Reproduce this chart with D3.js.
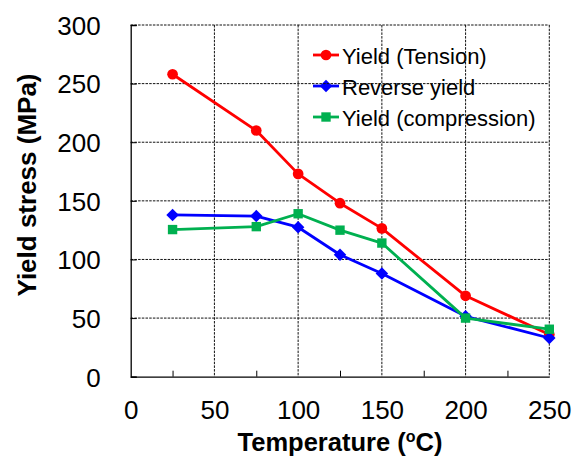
<!DOCTYPE html>
<html>
<head>
<meta charset="utf-8">
<script src="https://cdn.jsdelivr.net/npm/d3@7"></script>
<style>
  html, body { margin: 0; padding: 0; background: #fff; }
  svg { display: block; font-family: Arial, "Liberation Sans", sans-serif; }
</style>
</head>
<body>
<svg id="chart" width="572" height="459"></svg>
<script>
// Yield stress vs temperature
const temperatures = [25, 75, 100, 125, 150, 200, 250];
const yieldTension = [258, 210, 173, 148, 126.5, 69, 36];
const reverseYield = [138, 137, 127.5, 104, 88, 51.5, 33];
const yieldCompression = [125.5, 128, 139, 125, 114, 50, 40.5];
const xTicks = [0, 50, 100, 150, 200, 250];
const xMinorTicks = [25, 75, 125, 175, 225];
const yTicks = [0, 50, 100, 150, 200, 250, 300];

const series = [
  { name: "Yield (Tension)", values: yieldTension, color: "#ff0000", marker: "circle" },
  { name: "Reverse yield", values: reverseYield, color: "#0000ff", marker: "diamond" },
  { name: "Yield (compression)", values: yieldCompression, color: "#00b050", marker: "square" }
];

const svg = d3.select("#chart");
const plot = { left: 130.7, right: 549.3, top: 25, bottom: 376.7 };

const x = d3.scaleLinear().domain([0, 250]).range([plot.left, plot.right]);
const y = d3.scaleLinear().domain([0, 300]).range([plot.bottom, plot.top]);

// Square diamond (equal width and height)
const squareDiamond = {
  draw(context, size) {
    const r = Math.sqrt(size / 2);
    context.moveTo(0, -r);
    context.lineTo(r, 0);
    context.lineTo(0, r);
    context.lineTo(-r, 0);
    context.closePath();
  }
};

const symbolFor = {
  circle: d3.symbol().type(d3.symbolCircle).size(90),
  diamond: d3.symbol().type(squareDiamond).size(78),
  square: d3.symbol().type(d3.symbolSquare).size(88)
};

// Legend (drawn first so the grid runs over it)
const legend = svg.append("g");
series.forEach((s, i) => {
  const ly = 55 + i * 31;
  const g = legend.append("g").attr("transform", `translate(0,${ly})`);
  g.append("line").attr("x1", 313).attr("x2", 339).attr("y1", 0).attr("y2", 0)
    .attr("stroke", s.color).attr("stroke-width", 2.8);
  g.append("path").attr("d", symbolFor[s.marker]()).attr("transform", "translate(326,0)")
    .attr("fill", s.color);
  g.append("text").attr("x", 342).attr("y", 9).attr("font-size", 22)
    .attr("fill", "#000").text(s.name);
});

// Grid lines
const grid = svg.append("g").attr("stroke", "#111").attr("stroke-width", 1)
  .attr("stroke-dasharray", "2.5,1.2");
grid.selectAll(".gy").data(yTicks.filter(d => d > 0)).join("line")
  .attr("x1", plot.left).attr("x2", plot.right)
  .attr("y1", d => y(d)).attr("y2", d => y(d));
grid.selectAll(".gx").data(xTicks.filter(d => d > 0)).join("line")
  .attr("y1", plot.top).attr("y2", plot.bottom)
  .attr("x1", d => x(d)).attr("x2", d => x(d));

// Axes
const xAxis = d3.axisBottom(x).tickValues(xTicks).tickSize(0).tickPadding(24)
  .tickFormat(d3.format("d"));
const gx = svg.append("g").attr("transform", `translate(0,${plot.bottom})`).call(xAxis);
gx.select(".domain").attr("stroke", "#000").attr("stroke-width", 1.3);
gx.selectAll("text").attr("font-size", 26).attr("fill", "#000")
  .attr("font-family", "Arial, 'Liberation Sans', sans-serif");

const xMinor = d3.axisBottom(x).tickValues(xMinorTicks).tickSize(-6).tickFormat("");
const gxm = svg.append("g").attr("transform", `translate(0,${plot.bottom})`).call(xMinor);
gxm.select(".domain").remove();
gxm.selectAll("line").attr("stroke", "#000");

const yAxis = d3.axisLeft(y).tickValues(yTicks).tickSize(-6).tickPadding(30)
  .tickFormat(d3.format("d"));
const gy = svg.append("g").attr("transform", `translate(${plot.left},0)`).call(yAxis);
gy.select(".domain").attr("stroke", "#000").attr("stroke-width", 1.3);
gy.selectAll("line").attr("stroke", "#000");
gy.selectAll("text").attr("font-size", 26).attr("fill", "#000")
  .attr("font-family", "Arial, 'Liberation Sans', sans-serif")
  .attr("dy", "0.36em");

// Series lines and markers
const line = d3.line().x((d, i) => x(temperatures[i])).y(d => y(d));
series.forEach(s => {
  svg.append("path").datum(s.values).attr("d", line)
    .attr("fill", "none").attr("stroke", s.color).attr("stroke-width", 2.8)
    .attr("stroke-linejoin", "round");
  svg.append("g").selectAll("path").data(s.values).join("path")
    .attr("d", symbolFor[s.marker]())
    .attr("transform", (d, i) => `translate(${x(temperatures[i])},${y(d)})`)
    .attr("fill", s.color);
});

// Axis titles
const xt = svg.append("text").attr("x", (plot.left + plot.right) / 2).attr("y", 451)
  .attr("text-anchor", "middle").attr("font-size", 25.5).attr("font-weight", "bold");
xt.append("tspan").text("Temperature (");
xt.append("tspan").attr("font-size", 16).attr("dy", -9).text("o");
xt.append("tspan").attr("dy", 9).text("C)");

svg.append("text").attr("transform", `translate(36,${185}) rotate(-90)`)
  .attr("text-anchor", "middle").attr("font-size", 26).attr("font-weight", "bold")
  .text("Yield stress (MPa)");
</script>
</body>
</html>
